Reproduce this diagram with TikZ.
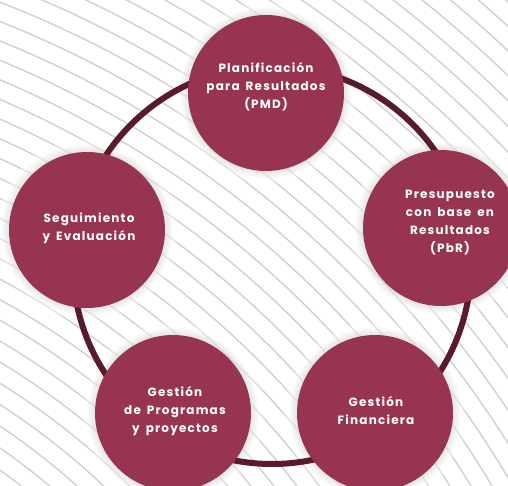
\documentclass[tikz,border=0pt]{standalone}
\usepackage{fontspec}
\newfontfamily\popfont{Poppins}[LetterSpace=10, WordSpace=1.6]
\definecolor{vino}{HTML}{973550}
\definecolor{vinodark}{HTML}{5A1A2D}
\definecolor{raya}{HTML}{D0D0D0}

\begin{document}
\begin{tikzpicture}[x=1pt, y=-1pt,
    every node/.style = {align=center, text=white,
      font=\popfont\bfseries\fontsize{12}{18}\selectfont},
    etapa/.style = {circle, fill=vino, minimum size=156pt, inner sep=0pt},
    anillo/.style = {draw=vinodark, line width=6pt},
    raya/.style = {draw=raya, line width=1.4pt}]
  \useasboundingbox (0,0) rectangle (508,486);
  \fill[white] (0,0) rectangle (508,486);
  % fondo con rayas
  \begin{scope}
    \clip (0,0) rectangle (508,486);
    \foreach \r in {650,668,...,1390}
      \draw[raya] (-392,1011) circle[radius=\r pt];
  \end{scope}
  % halos
  \foreach \p in {(266,93),(441,228),(375,413),(173,413),(87,230)} {
    \foreach \i in {1,...,14}
      \fill[white, opacity=0.1] \p circle[radius=78pt+\i pt];
    \foreach \i in {1,...,8}
      \fill[black, opacity=0.012] \p circle[radius=78pt+\i pt];
  }
  \coordinate (centro) at (272,265);
  \draw[anillo] (centro) circle[radius=199pt];
  % etapas
  \node[etapa] (pmd) at (266,93) {};
  \node[etapa] (pbr) at (441,228) {};
  \node[etapa] (fin) at (375,413) {};
  \node[etapa] (prog) at (173,413) {};
  \node[etapa] (seg) at (87,230) {};
  \node (pmd-t) at ([shift={(0,-6)}]pmd) {Planificación\\para Resultados\\(PMD)};
  \node (pbr-t) at ([shift={(9,-5)}]pbr) {Presupuesto\\con base en\\Resultados\\(PbR)};
  \node (fin-t) at ([shift={(1,-2)}]fin) {Gestión\\Financiera};
  \node (prog-t) at ([shift={(2,-2)}]prog) {Gestión\\de Programas\\y proyectos};
  \node (seg-t) at ([shift={(2,-2)}]seg) {Seguimiento\\y Evaluación};
\end{tikzpicture}
\end{document}
